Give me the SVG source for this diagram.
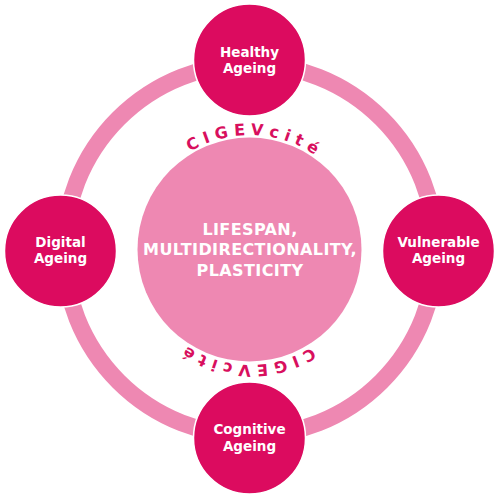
<svg xmlns="http://www.w3.org/2000/svg" width="500" height="500" viewBox="0 0 500 500">
<style>
.node{fill:#dc0b5f;stroke:#ffffff;stroke-width:1.5}
.nt{font-family:"DejaVu Sans",sans-serif;font-weight:bold;font-size:13.5px;fill:#ffffff;text-anchor:middle}
.ct{font-family:"DejaVu Sans",sans-serif;font-weight:bold;font-size:16px;letter-spacing:0.4px;fill:#ffffff;text-anchor:middle}
.arc{font-family:"DejaVu Sans",sans-serif;font-weight:bold;font-size:16px;fill:#d80f5e;letter-spacing:5.5px}
</style>
<defs>
<path id="tp" d="M135,250 A115,115 0 0 1 365,250 A115,115 0 0 1 135,250"/>
</defs>
<g id="connectors">
<circle cx="250" cy="250" r="186" fill="none" stroke="#ee88b2" stroke-width="17"/>
</g>
<g id="center">
<circle cx="249.5" cy="249.5" r="112" fill="#ee88b2"/>
<text class="ct" x="250" y="234.5">LIFESPAN,</text>
<text class="ct" x="250" y="255">MULTIDIRECTIONALITY,</text>
<text class="ct" x="250" y="275.5">PLASTICITY</text>
<text class="arc" text-anchor="middle"><textPath href="#tp" startOffset="186">CIGEVcité</textPath></text>
<text class="arc" text-anchor="middle"><textPath href="#tp" startOffset="545">CIGEVcité</textPath></text>
</g>
<g id="healthy">
<circle class="node" cx="249.5" cy="60" r="56"/>
<text class="nt" x="249.5" y="56.5">Healthy</text>
<text class="nt" x="249.5" y="73">Ageing</text>
</g>
<g id="digital">
<circle class="node" cx="60.5" cy="251" r="56"/>
<text class="nt" x="60.5" y="246.5">Digital</text>
<text class="nt" x="60.5" y="263">Ageing</text>
</g>
<g id="vulnerable">
<circle class="node" cx="438.5" cy="251" r="56"/>
<text class="nt" x="438.5" y="246.5">Vulnerable</text>
<text class="nt" x="438.5" y="263">Ageing</text>
</g>
<g id="cognitive">
<circle class="node" cx="249.5" cy="438" r="56"/>
<text class="nt" x="249.5" y="434">Cognitive</text>
<text class="nt" x="249.5" y="450.5">Ageing</text>
</g>
</svg>
